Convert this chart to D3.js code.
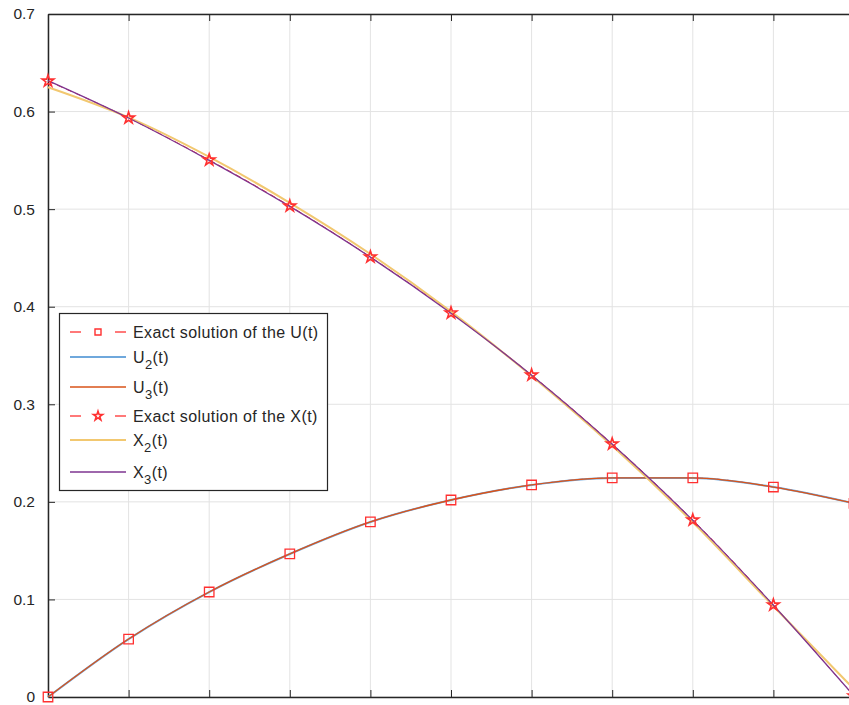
<!DOCTYPE html>
<html><head><meta charset="utf-8">
<script src="https://cdn.jsdelivr.net/npm/d3@7"></script>
<style>body{margin:0;background:#fff}svg{display:block}text{font-family:"Liberation Sans",Arial,sans-serif}</style>
</head><body>
<svg id="c" width="849" height="705"></svg>
<script>
const t = [0,0.1,0.2,0.3,0.4,0.5,0.6,0.7,0.8,0.9,1.0];
const uExact = [0,0.0594,0.1076,0.1466,0.1794,0.2019,0.2173,0.2245,0.2245,0.2152,0.1985];
const u2 = [0,0.0594,0.1076,0.1466,0.1794,0.2019,0.2173,0.2245,0.2245,0.2152,0.1985];
const u3 = [0,0.0594,0.1076,0.1466,0.1794,0.2019,0.2173,0.2245,0.2245,0.2152,0.1985];
const xExact = [0.6313,0.5934,0.5504,0.5032,0.4510,0.3936,0.3300,0.2593,0.1814,0.0943,0.0010];
const x2 = [0.6250,0.5940,0.5535,0.5065,0.4540,0.3950,0.3290,0.2575,0.1790,0.0930,0.0080];
const x3 = [0.6318,0.5934,0.5500,0.5028,0.4508,0.3933,0.3298,0.2590,0.1810,0.0940,0.0010];
const yTicks = [0,0.1,0.2,0.3,0.4,0.5,0.6,0.7];
const xTicks = [0,0.1,0.2,0.3,0.4,0.5,0.6,0.7,0.8,0.9,1.0];
const legendLabels = [
  ["Exact solution of the U(t)", null, null],
  ["U", "2", "(t)"],
  ["U", "3", "(t)"],
  ["Exact solution of the X(t)", null, null],
  ["X", "2", "(t)"],
  ["X", "3", "(t)"]
];

const svg = d3.select("#c");
const L = 48, R = 854, T = 14, B = 697;
const x = d3.scaleLinear().domain([0,1]).range([L,R]);
const y = d3.scaleLinear().domain([0,0.7]).range([B,T]);
const axisCol = "#262626";

// grid
svg.append("g").selectAll("line").data(xTicks).join("line")
  .attr("x1", d=>x(d)).attr("x2", d=>x(d)).attr("y1", T).attr("y2", B)
  .attr("stroke", "#e3e3e3").attr("stroke-width", 1);
svg.append("g").selectAll("line").data(yTicks).join("line")
  .attr("x1", L).attr("x2", R).attr("y1", d=>y(d)).attr("y2", d=>y(d))
  .attr("stroke", "#e3e3e3").attr("stroke-width", 1);

// axes
const gy = svg.append("g").attr("transform", `translate(${L},0)`)
  .call(d3.axisLeft(y).tickValues(yTicks).tickSizeInner(-7).tickSizeOuter(0).tickPadding(13)
    .tickFormat(d => d===0 ? "0" : d3.format(".1f")(d)));
gy.select(".domain").attr("stroke", axisCol).attr("stroke-width", 1.5);
gy.selectAll(".tick line").attr("stroke", axisCol);
gy.selectAll("text").attr("fill", axisCol).attr("font-size", 15.5);

const gb = svg.append("g").attr("transform", `translate(0,${B})`)
  .call(d3.axisBottom(x).tickValues(xTicks).tickSizeInner(-7).tickSizeOuter(0).tickFormat(""));
gb.select(".domain").attr("stroke", axisCol).attr("stroke-width", 1.5);
gb.selectAll(".tick line").attr("stroke", axisCol);

const gt = svg.append("g").attr("transform", `translate(0,${T})`)
  .call(d3.axisTop(x).tickValues(xTicks).tickSizeInner(-7).tickSizeOuter(0).tickFormat(""));
gt.select(".domain").attr("stroke", axisCol).attr("stroke-width", 1.5);
gt.selectAll(".tick line").attr("stroke", axisCol);

const line = d3.line().x(d=>x(d[0])).y(d=>y(d[1])).curve(d3.curveMonotoneX);
const pts = arr => t.map((v,i)=>[v, arr[i]]);

const series = [
  {data:uExact, color:"#ff2020", w:1, dash:"6,4"},
  {data:xExact, color:"#ff2020", w:1, dash:"6,4"},
  {data:u2, color:"#6fa8dc", w:2},
  {data:u3, color:"#d95319", w:1.3},
  {data:x2, color:"#f2c870", w:2},
  {data:x3, color:"#7e3590", w:1.3}
];
series.forEach(s => {
  svg.append("path").datum(pts(s.data)).attr("d", line)
    .attr("fill","none").attr("stroke", s.color).attr("stroke-width", s.w)
    .attr("stroke-dasharray", s.dash || null);
});

const sq = d3.symbol().type(d3.symbolSquare).size(90);
const st = d3.symbol().type(d3.symbolStar).size(42);
svg.append("g").selectAll("path").data(pts(uExact)).join("path")
  .attr("d", sq).attr("transform", d=>`translate(${x(d[0])},${y(d[1])})`)
  .attr("fill","none").attr("stroke","#ff3030").attr("stroke-width",1.3);
svg.append("g").selectAll("path").data(pts(xExact)).join("path")
  .attr("d", st).attr("transform", d=>`translate(${x(d[0])},${y(d[1])})`)
  .attr("fill","none").attr("stroke","#ff3030").attr("stroke-width",1.6);

// legend
const lg = svg.append("g");
lg.append("rect").attr("x",59.5).attr("y",313.5).attr("width",268).attr("height",177)
  .attr("fill","#fff").attr("stroke","#262626").attr("stroke-width",1.2);
const rowY = [332, 357, 387, 416, 440, 472];
const legStyles = [
  {color:"#ff2020", w:1.2, dashed:true, marker:"sq"},
  {color:"#6fa8dc", w:2},
  {color:"#d95319", w:1.3},
  {color:"#ff2020", w:1.2, dashed:true, marker:"st"},
  {color:"#f2c870", w:2},
  {color:"#7e3590", w:1.3}
];
legStyles.forEach((s,i) => {
  const yy = rowY[i];
  if (s.dashed) {
    lg.append("line").attr("x1",70).attr("x2",81).attr("y1",yy).attr("y2",yy)
      .attr("stroke", s.color).attr("stroke-width", s.w);
    lg.append("line").attr("x1",115).attr("x2",126).attr("y1",yy).attr("y2",yy)
      .attr("stroke", s.color).attr("stroke-width", s.w);
  } else {
    lg.append("line").attr("x1",70).attr("x2",126).attr("y1",yy).attr("y2",yy)
      .attr("stroke", s.color).attr("stroke-width", s.w);
  }
  if (s.marker==="sq") lg.append("path").attr("d", d3.symbol().type(d3.symbolSquare).size(36))
    .attr("transform",`translate(98,${yy})`).attr("fill","none").attr("stroke","#ff3030").attr("stroke-width",1.4);
  if (s.marker==="st") lg.append("path").attr("d", d3.symbol().type(d3.symbolStar).size(26))
    .attr("transform",`translate(98,${yy})`).attr("fill","none").attr("stroke","#ff3030").attr("stroke-width",1.6);
  const lab = legendLabels[i];
  const tx = lg.append("text").attr("x",133).attr("y",yy+6).attr("font-size",16).attr("letter-spacing",0.4).attr("fill","#262626");
  tx.append("tspan").text(lab[0]);
  if (lab[1]) {
    tx.append("tspan").attr("dy",6).attr("font-size",13).text(lab[1]);
    tx.append("tspan").attr("dy",-6).text(lab[2]);
  }
});
</script>
</body></html>
